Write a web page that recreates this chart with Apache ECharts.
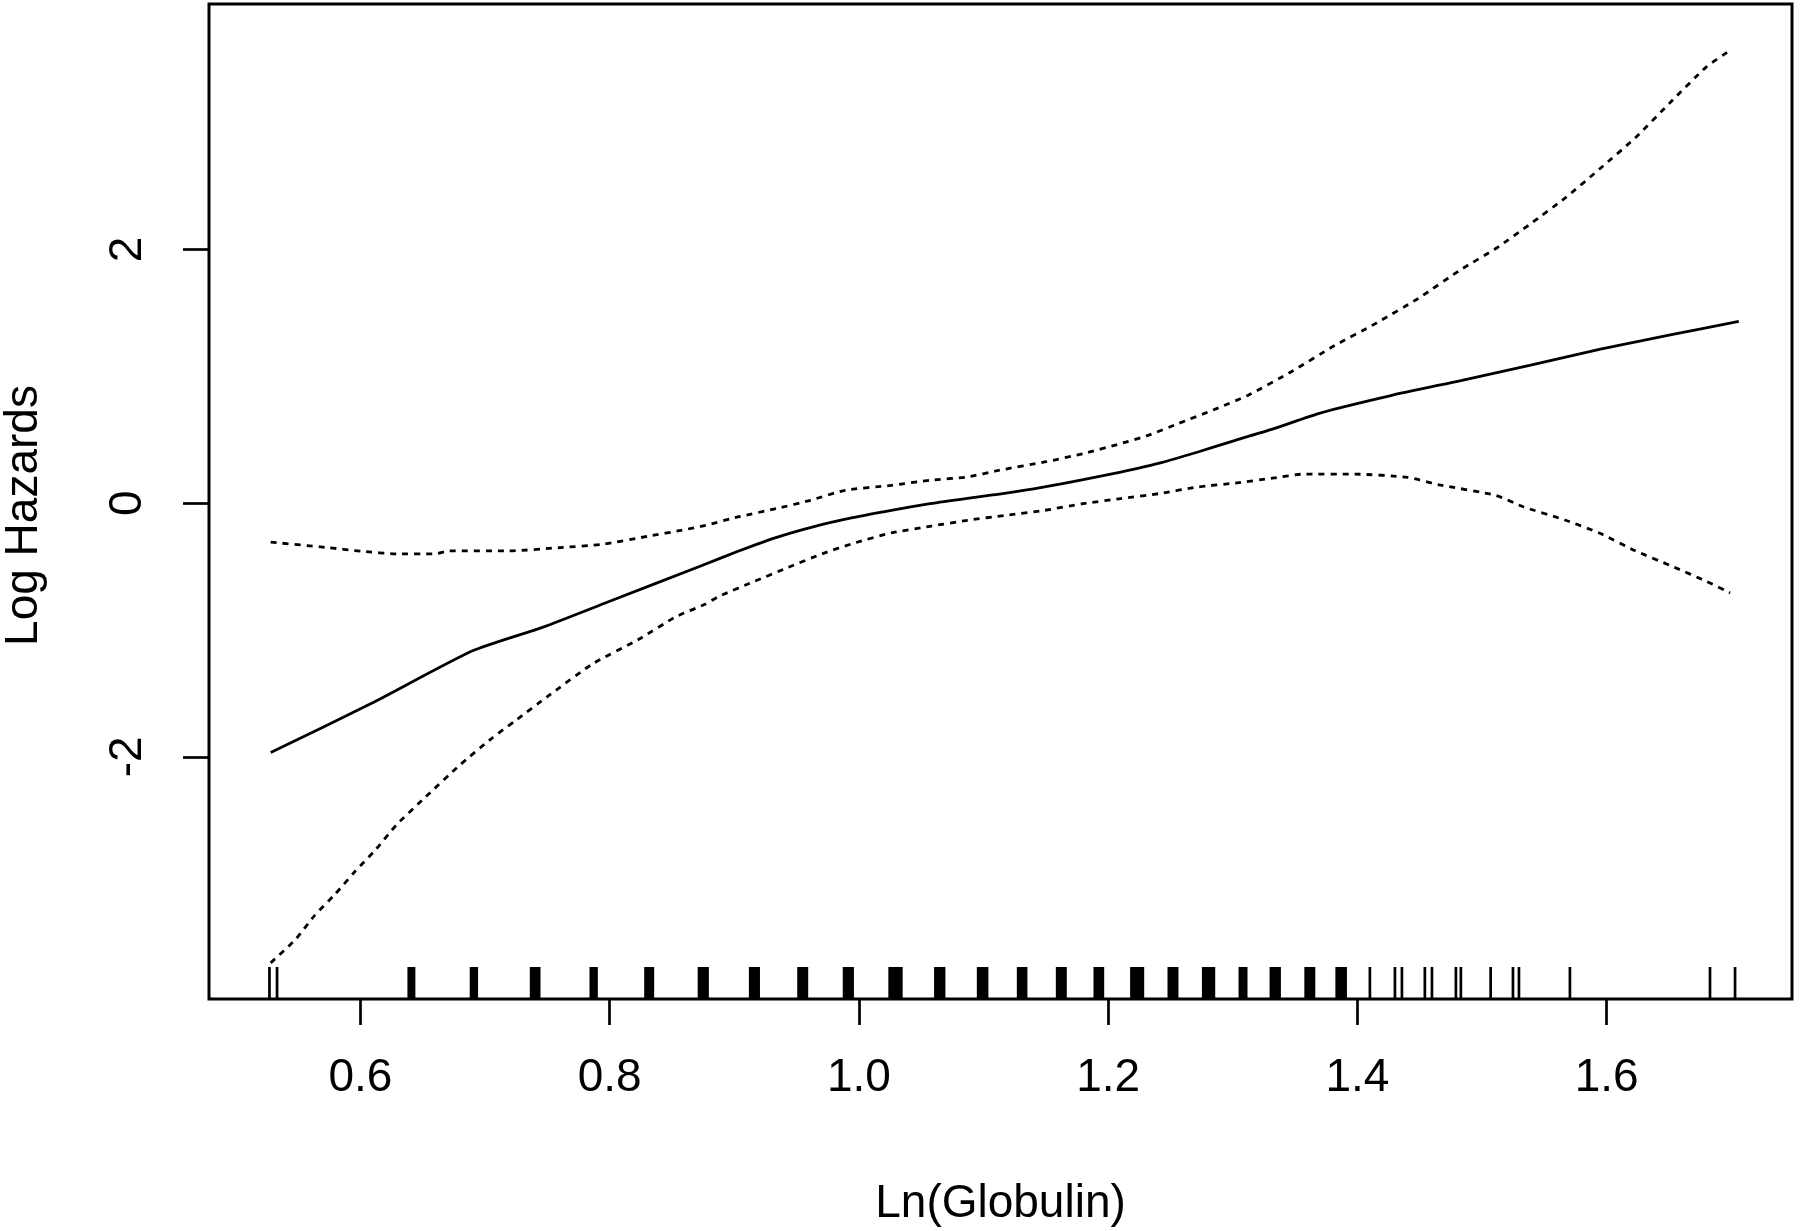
<!DOCTYPE html>
<html>
<head>
<meta charset="utf-8">
<title>Ln(Globulin)</title>
<script src="https://cdn.jsdelivr.net/npm/echarts@6/dist/echarts.min.js"></script>
<style>
	html,body{margin:0;padding:0;background:#fff;}
	#myChart1{width:1800px;height:1231px;}
</style>
</head>
<body>
<div id="myChart1"></div>
<script>
// fitted log hazard (solid)
var fitX = [0.528,0.609,0.690,0.746,0.799,0.872,0.903,0.934,0.964,0.995,1.026,1.057,1.087,1.118,1.149,1.180,1.210,1.241,1.272,1.302,1.333,1.370,1.426,1.483,1.539,1.595,1.652,1.706];
var fitY = [-1.967,-1.579,-1.165,-0.980,-0.778,-0.500,-0.380,-0.270,-0.185,-0.115,-0.057,-0.004,0.038,0.078,0.128,0.185,0.245,0.315,0.403,0.495,0.587,0.710,0.846,0.966,1.087,1.213,1.328,1.433];

// upper band (dotted)
var upperX = [0.528,0.575,0.601,0.629,0.660,0.671,0.719,0.759,0.794,0.831,0.858,0.877,0.903,0.934,0.961,0.989,1.026,1.057,1.087,1.112,1.149,1.180,1.210,1.232,1.256,1.287,1.312,1.348,1.381,1.415,1.449,1.483,1.511,1.539,1.567,1.595,1.623,1.652,1.680,1.699];
var upperY = [-0.308,-0.352,-0.380,-0.400,-0.400,-0.377,-0.377,-0.352,-0.325,-0.261,-0.214,-0.175,-0.109,-0.043,0.022,0.101,0.140,0.180,0.206,0.258,0.324,0.390,0.469,0.534,0.626,0.745,0.849,1.042,1.238,1.418,1.615,1.841,2.007,2.203,2.408,2.640,2.881,3.168,3.439,3.569];

// lower band (dotted)
var lowerX = [0.528,0.548,0.563,0.580,0.596,0.612,0.629,0.652,0.679,0.706,0.724,0.751,0.786,0.823,0.853,0.876,0.888,0.915,0.943,0.971,0.995,1.026,1.057,1.087,1.118,1.149,1.180,1.210,1.241,1.272,1.302,1.333,1.356,1.398,1.440,1.466,1.511,1.533,1.567,1.595,1.623,1.652,1.680,1.699];
var lowerY = [-3.625,-3.440,-3.254,-3.080,-2.901,-2.735,-2.536,-2.320,-2.072,-1.850,-1.718,-1.519,-1.270,-1.076,-0.897,-0.800,-0.734,-0.622,-0.508,-0.398,-0.319,-0.235,-0.183,-0.136,-0.096,-0.057,-0.004,0.035,0.075,0.127,0.158,0.198,0.228,0.228,0.203,0.143,0.061,-0.029,-0.135,-0.240,-0.376,-0.496,-0.617,-0.708];

// rug: [from, to] of each tick / cluster of ticks
var rugTicks = [
	[0.5270,0.5270],[0.5331,0.5331],
	[0.6377,0.6441],[0.6877,0.6944],[0.7359,0.7445],[0.7838,0.7905],
	[0.8277,0.8357],[0.8706,0.8796],[0.9117,0.9206],[0.9505,0.9593],
	[0.9870,0.9960],[1.0236,1.0351],[1.0603,1.0694],[1.0946,1.1039],
	[1.1267,1.1352],[1.1580,1.1668],[1.1882,1.1968],[1.2176,1.2289],
	[1.2476,1.2564],[1.2752,1.2859],[1.3046,1.3118],[1.3295,1.3386],
	[1.3574,1.3662],[1.3823,1.3916],
	[1.4100,1.4100],[1.4301,1.4301],[1.4357,1.4357],[1.4541,1.4541],[1.4598,1.4598],
	[1.4790,1.4790],[1.4830,1.4830],[1.5069,1.5069],[1.5248,1.5248],[1.5296,1.5296],
	[1.5705,1.5705],[1.6829,1.6829],[1.7030,1.7030]
];

var xTicks = [0.6,0.8,1.0,1.2,1.4,1.6];
var yTicks = [-2,0,2];

(function(){
	var xMin = 0.4785, xMax = 1.7487;
	var yMin = -3.910, yMax = 3.935;
	var font = '"Liberation Sans", Arial, sans-serif';

	function pairs(xs, ys){
		var out = [];
		for(var i=0;i<xs.length;i++){
			out.push([xs[i], ys[i]]);
		}
		return out;
	}

	var myChart1 = echarts.init(document.getElementById('myChart1'), null, {renderer:'canvas'});
	myChart1.setOption({
		animation: false,
		backgroundColor: '#fff',
		grid: {
			show: true,
			left: 209,
			right: 8,
			top: 4,
			bottom: 232,
			borderColor: '#000',
			borderWidth: 3,
			containLabel: false,
			outerBoundsMode: 'none'
		},
		xAxis: {
			type: 'value',
			min: xMin,
			max: xMax,
			name: 'Ln(Globulin)',
			nameLocation: 'middle',
			nameGap: 182,
			nameTextStyle: {fontSize: 46, color: '#000', fontFamily: font},
			axisLine: {show: false, onZero: false},
			splitLine: {show: false},
			axisTick: {
				show: true,
				length: 26,
				customValues: xTicks,
				lineStyle: {color: '#000', width: 2.7}
			},
			axisLabel: {
				customValues: xTicks,
				margin: 56,
				fontSize: 46,
				color: '#000',
				fontFamily: font,
				formatter: function(v){ return v.toFixed(1); }
			}
		},
		yAxis: {
			type: 'value',
			min: yMin,
			max: yMax,
			name: 'Log Hazards',
			nameLocation: 'middle',
			nameGap: 162,
			nameTextStyle: {fontSize: 46, color: '#000', fontFamily: font, padding: [0, 28, 0, 0]},
			axisLine: {show: false, onZero: false},
			splitLine: {show: false},
			axisTick: {
				show: true,
				length: 26,
				customValues: yTicks,
				lineStyle: {color: '#000', width: 2.7}
			},
			axisLabel: {
				customValues: yTicks,
				rotate: 90,
				margin: 58,
				fontSize: 46,
				color: '#000',
				fontFamily: font
			}
		},
		series: [
			{
				type: 'line',
				data: pairs(fitX, fitY),
				showSymbol: false,
				smooth: 0.2,
				lineStyle: {color: '#000', width: 2.8, type: 'solid'}
			},
			{
				type: 'line',
				data: pairs(upperX, upperY),
				showSymbol: false,
				smooth: 0.2,
				lineStyle: {color: '#000', width: 2.8, type: [6, 6]}
			},
			{
				type: 'line',
				data: pairs(lowerX, lowerY),
				showSymbol: false,
				smooth: 0.2,
				lineStyle: {color: '#000', width: 2.8, type: [6, 6]}
			},
			{
				// rug along the bottom of the box
				type: 'custom',
				data: rugTicks,
				encode: {x: [0, 1]},
				renderItem: function(params, api){
					var p1 = api.coord([api.value(0), yMin]);
					var p2 = api.coord([api.value(1), yMin]);
					var w = Math.max(p2[0] - p1[0], 2.7);
					var cx = (p1[0] + p2[0]) / 2;
					return {
						type: 'rect',
						shape: {x: cx - w/2, y: p1[1] - 32, width: w, height: 32},
						style: {fill: '#000'}
					};
				}
			}
		]
	});
})();
</script>
</body>
</html>
